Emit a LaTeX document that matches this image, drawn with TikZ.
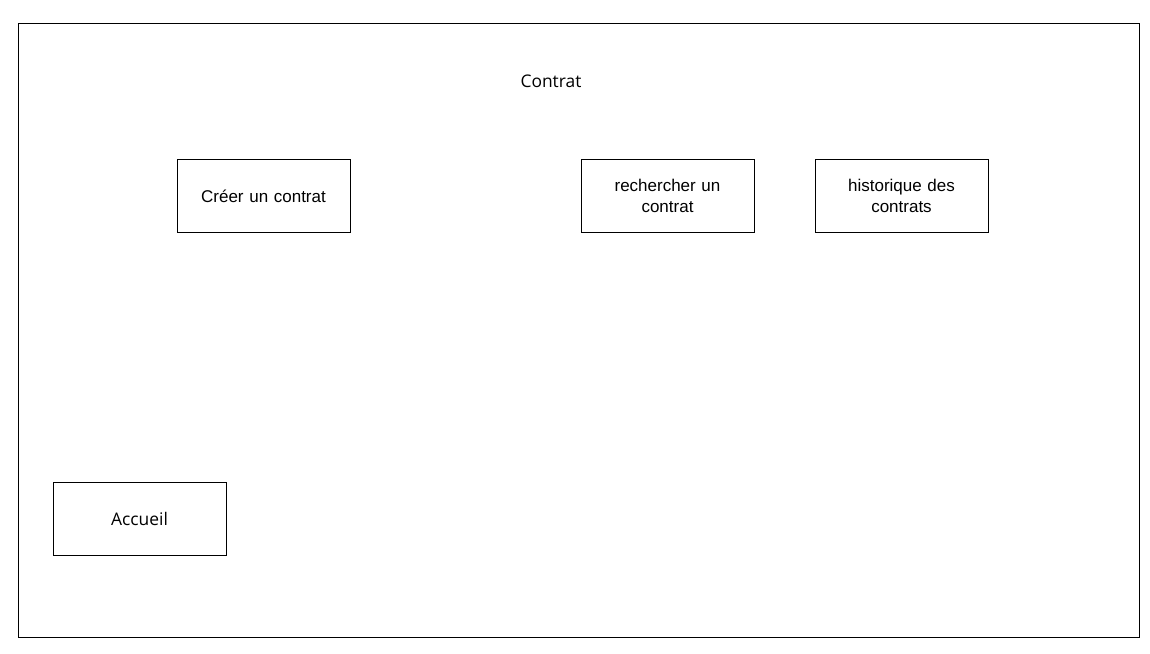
\documentclass[tikz,border=0pt]{standalone}
\usepackage{fontspec}
\setmainfont{Liberation Sans}
\newfontfamily\titlefont{Open Sans}
\begin{document}
\begin{tikzpicture}[x=1pt,y=-1pt,
  frame/.style={draw=black,line width=1pt},
  menubox/.style={draw=black,line width=1pt,minimum width=173pt,minimum height=73pt,
    inner sep=0pt,align=center,font=\fontsize{17}{21}\selectfont,text width=160pt},
  plain/.style={inner sep=0pt,font=\titlefont\fontsize{17.4}{20}\selectfont}]
  \useasboundingbox (0,0) rectangle (1150,653);
  % outer frame
  \draw[frame] (18.5,23.5) rectangle (1139.5,637.5);
  \node[plain] (title) at (551,81) {Contrat};
  \node[menubox] (creer) at (263.5,196) {Créer un contrat};
  \node[menubox] (rech) at (667.5,196) {rechercher un\\contrat};
  \node[menubox] (hist) at (901.5,196) {historique des\\contrats};
  \node[menubox,font=\titlefont\fontsize{17.4}{20}\selectfont] (accueil) at (139.5,519) {Accueil};
\end{tikzpicture}
\end{document}
